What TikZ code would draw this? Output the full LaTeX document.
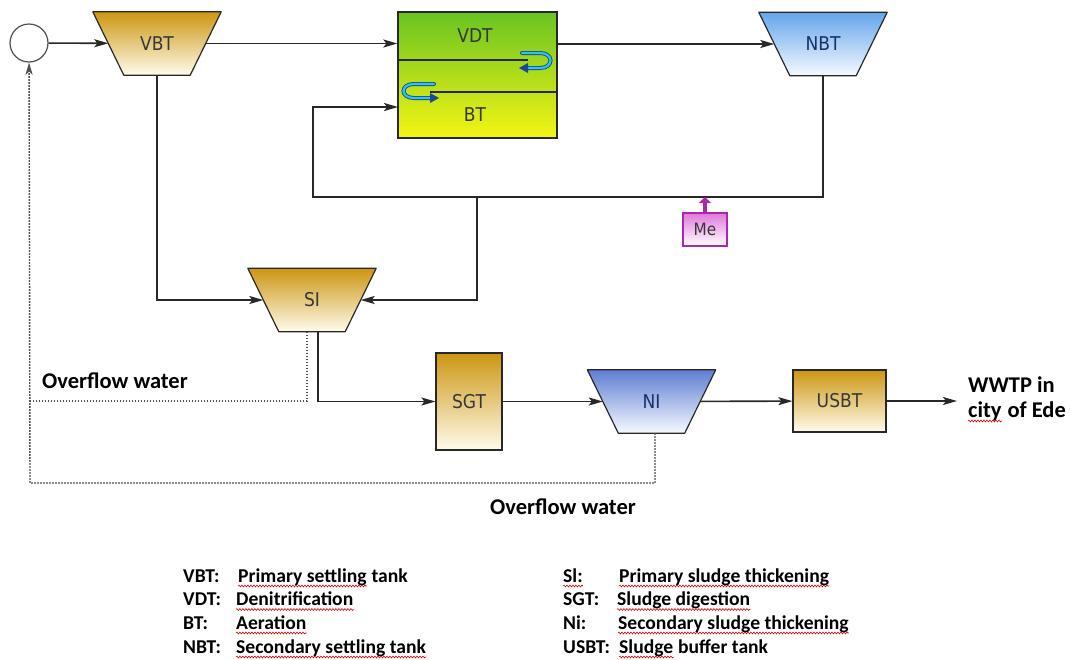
\documentclass[tikz,border=0pt]{standalone}
\usepackage{fontspec}
\setmainfont{Carlito}
\newfontfamily\dinfont{DejaVu Sans Condensed}
\usetikzlibrary{arrows.meta, calc, decorations.pathmorphing}

\definecolor{gold}{RGB}{204,150,18}
\definecolor{goldlight}{RGB}{255,251,236}
\definecolor{skyblue}{RGB}{100,165,235}
\definecolor{paleblue}{RGB}{246,250,255}
\definecolor{niblue}{RGB}{95,125,210}
\definecolor{reacgreen}{RGB}{105,195,35}
\definecolor{reacyellow}{RGB}{245,245,20}
\definecolor{edge}{RGB}{40,40,40}
\definecolor{labelgray}{RGB}{55,55,55}
\definecolor{dosepink}{RGB}{225,120,220}
\definecolor{doseedge}{RGB}{170,40,170}
\definecolor{loopcyan}{RGB}{40,200,230}
\definecolor{loopblue}{RGB}{30,70,150}
\definecolor{ovfl}{RGB}{80,80,80}

\pgfdeclarelayer{background}
\pgfsetlayers{background,main}

% tapered settling/thickening tank drawn behind a named core node;
% the core node spans the mid-height width, so flow lines meet the slanted sides
\newcommand\tankbody[3]{%
  \begin{pgfonlayer}{background}
    \shade[top color=#2, bottom color=#3, draw=edge, line width=1.2pt, line join=round]
      ($(#1.north west)+(-15.5,0)$) -- ($(#1.north east)+(15.5,0)$) --
      ($(#1.south east)+(-15.5,0)$) -- ($(#1.south west)+(15.5,0)$) -- cycle;
  \end{pgfonlayer}}

\tikzset{
  unitfont/.style={font=\dinfont\fontsize{19}{19}\selectfont},
  tankcore/.style={rectangle, minimum width=97pt, minimum height=63pt, inner sep=0pt,
    text=labelgray, unitfont},
  unitbox/.style={rectangle, draw=edge, line width=1.2pt, inner sep=0pt,
    top color=gold, bottom color=goldlight, text=labelgray, unitfont},
  flow/.style={draw=edge, line width=1.6pt, ->},
  overflowline/.style={draw=ovfl, line width=1.4pt, dash pattern=on 1.6pt off 1.4pt},
  boldtext/.style={font=\bfseries\fontsize{22.5}{25}\selectfont, text=black, inner sep=0pt},
  legend/.style={font=\bfseries\fontsize{19.6}{22}\selectfont, text=black, inner sep=0pt, anchor=base west},
  squiggle/.style={draw=red!85!black, line width=0.6pt,
    decorate, decoration={snake, amplitude=0.9pt, segment length=3pt}},
  loopouter/.style={draw=loopblue, line width=4pt, line cap=round},
  loopinner/.style={draw=loopcyan, line width=2.2pt, line cap=round},
}

\begin{document}
\begin{tikzpicture}[x=1pt, y=-1pt, >={Stealth[length=14pt,width=8pt,inset=3pt]}]
\useasboundingbox (0,0) rectangle (1070,659);
\begin{pgfonlayer}{background}
  \fill[white] (0,0) rectangle (1070,659);
\end{pgfonlayer}

% ---- process units ----
\node[circle, draw=ovfl, line width=1.2pt, fill=white, minimum size=38pt, inner sep=0pt] (mix) at (29,43) {};
\node[tankcore] (vbt) at (157,43.5) {VBT};
\tankbody{vbt}{gold}{goldlight}
\node[rectangle, draw=edge, line width=1.3pt, minimum width=159pt, minimum height=126pt,
      top color=reacgreen, bottom color=reacyellow] (reactor) at (477.5,75) {};
\node[text=labelgray, unitfont] (vdt) at (475,36) {VDT};
\node[text=labelgray, unitfont] (bt) at (475,115) {BT};
\node[tankcore, text=loopblue!70!black] (nbt) at (823,44) {NBT};
\tankbody{nbt}{skyblue}{paleblue}
\node[tankcore] (si) at (312,300) {SI};
\tankbody{si}{gold}{goldlight}
\node[unitbox, minimum width=66pt, minimum height=97pt] (sgt) at (469,401.5) {SGT};
\node[tankcore, text=loopblue!70!black] (ni) at (651.5,401.5) {NI};
\tankbody{ni}{niblue}{paleblue}
\node[unitbox, minimum width=93pt, minimum height=62pt] (usbt) at (839.5,401) {USBT};
\node[rectangle, draw=doseedge, line width=1.2pt, minimum width=44pt, minimum height=33pt, inner sep=0pt,
      top color=dosepink, bottom color=white, text=labelgray,
      font=\dinfont\fontsize{17}{17}\selectfont] (me) at (705,229.5) {Me};

% ---- internal partitions of the reactor ----
\draw[edge, line width=1.5pt] (reactor.west |- 0,60) -- (528,60);
\draw[edge, line width=1.5pt] (430,92) -- (reactor.east |- 0,92);

% internal recirculation loops
\foreach \st in {loopouter, loopinner}{
  \draw[\st] (522,53) -- (540,53) .. controls (554,53) and (554,68) .. (540,68) -- (527,68);
  \draw[\st] (434,84) -- (414,84) .. controls (400,84) and (400,98) .. (414,98) -- (430,98);
}
\fill[loopblue] (519,68) -- (528,63) -- (528,73) -- cycle;
\fill[loopblue] (439,98) -- (430,93) -- (430,103) -- cycle;

% ---- helper points ----
\coordinate (retR) at (823,197);
\coordinate (retL) at (313,197);
\coordinate (branch) at (477,197);
\coordinate (btin) at (398,107);
\coordinate (ovA) at (30,401);
\coordinate (ovB) at (30,483);
\coordinate (outlet) at (957,401);

% ---- main water line ----
\draw[flow] (mix) -- (vbt);
\draw[flow] (vbt) -- (reactor.west |- vbt);
\draw[flow] (reactor.east |- nbt) -- (nbt);

% return sludge
\draw[flow] (nbt) -- (retR) -- (retL) |- (btin);
\draw[flow] (branch) |- (si);
\draw[flow] (vbt) |- (si);

% dosing
\draw[doseedge, line width=3.2pt, -{Triangle[length=6pt,width=12pt]}] (me) -- (me |- retR);

% ---- sludge line ----
\draw[flow] ($(si.south)+(6,0)$) |- (sgt);
\draw[flow] (sgt) -- (ni);
\draw[flow] (ni) -- (usbt);
\draw[flow] (usbt) -- (outlet);

% ---- overflow water ----
\draw[overflowline] ($(si.south)+(-5,0)$) |- (ovA);
\draw[overflowline, -{Stealth[length=12pt,width=7pt,inset=3pt]}] ($(ni.south)+(3.5,0)$) |- (ovB) -- (mix);

% ---- labels ----
\node[boldtext, anchor=base west] (ov1) at (42,388) {Overflow water};
\node[boldtext, anchor=base west] (ov2) at (490,514) {Overflow water};
\node[boldtext, anchor=base west] (ww1) at (968,392) {WWTP in};
\node[boldtext, anchor=base west] (ww2) at (968,417) {city};
\node[boldtext, anchor=base west] (ww3) at ($(ww2.base east)+(5.5,0)$) {of Ede};
\draw[squiggle] ($(ww2.base west)+(0,4)$) -- ($(ww2.base east)+(0,4)$);

% ---- legend ----
\node[legend] (k1) at (183,582) {VBT:};
\node[legend] (d1) at (238,582) {Primary settling};
\node[legend] (d1b) at ($(d1.base east)+(4.5,0)$) {tank};
\node[legend] (k2) at (183,605.5) {VDT:};
\node[legend] (d2) at (236,605.5) {Denitrification};
\node[legend] (k3) at (183,629) {BT:};
\node[legend] (d3) at (236,629) {Aeration};
\node[legend] (k4) at (183,653) {NBT:};
\node[legend] (d4) at (236,653) {Secondary settling tank};

\node[legend] (k5) at (563,582) {Sl:};
\node[legend] (d5) at (619,582) {Primary sludge thickening};
\node[legend] (k6) at (563,605.5) {SGT:};
\node[legend] (d6) at (617,605.5) {Sludge digestion};
\node[legend] (k7) at (563,629) {Ni:};
\node[legend] (d7) at (618,629) {Secondary sludge thickening};
\node[legend] (k8) at (563,653) {USBT:};
\node[legend] (d8) at (619,653) {Sludge};
\node[legend] (d8b) at ($(d8.base east)+(4.5,0)$) {buffer tank};

\foreach \n in {d1,d2,d3,d4,k5,d5,d6,d7,d8}
  \draw[squiggle] ($(\n.base west)+(0,4)$) -- ($(\n.base east)+(0,4)$);
\end{tikzpicture}
\end{document}
